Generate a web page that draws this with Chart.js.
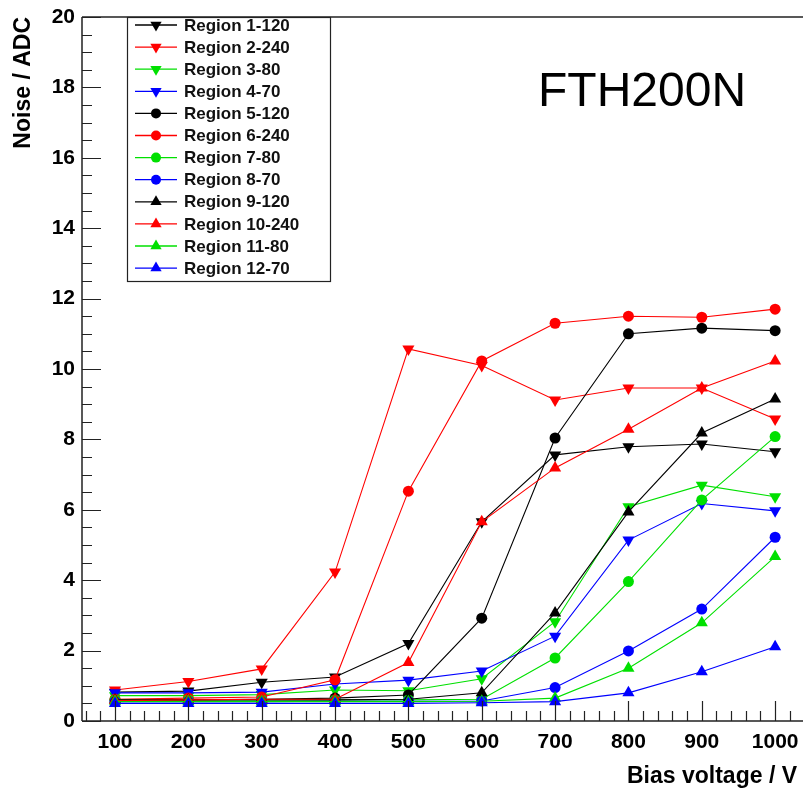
<!DOCTYPE html>
<html><head><meta charset="utf-8">
<script src="https://cdn.jsdelivr.net/npm/chart.js@4/dist/chart.umd.min.js"></script>
<style>html,body{margin:0;padding:0;background:#fff;overflow:hidden}</style>
</head><body>
<canvas id="c" width="803" height="792"></canvas>
<script>
// ---- data ----
const voltages = [100, 200, 300, 400, 500, 600, 700, 800, 900, 1000];
const xTickLabels = [100, 200, 300, 400, 500, 600, 700, 800, 900, 1000];
const yTickLabels = [0, 2, 4, 6, 8, 10, 12, 14, 16, 18, 20];
const seriesNames = ['Region 1-120','Region 2-240','Region 3-80','Region 4-70','Region 5-120','Region 6-240','Region 7-80','Region 8-70','Region 9-120','Region 10-240','Region 11-80','Region 12-70'];
const region1  = [0.82, 0.85, 1.10, 1.25, 2.20, 5.66, 7.56, 7.79, 7.87, 7.65];
const region2  = [0.88, 1.12, 1.48, 4.23, 10.57, 10.10, 9.12, 9.46, 9.46, 8.58];
const region3  = [0.72, 0.72, 0.75, 0.88, 0.86, 1.20, 2.82, 6.09, 6.70, 6.37];
const region4  = [0.80, 0.80, 0.82, 1.05, 1.16, 1.42, 2.41, 5.14, 6.18, 5.97];
const region5  = [0.60, 0.60, 0.62, 0.65, 0.74, 2.92, 8.04, 11.00, 11.16, 11.09];
const region6  = [0.62, 0.65, 0.68, 1.17, 6.53, 10.23, 11.30, 11.50, 11.47, 11.70];
const region7  = [0.60, 0.60, 0.60, 0.60, 0.60, 0.62, 1.79, 3.96, 6.28, 8.08];
const region8  = [0.55, 0.55, 0.55, 0.56, 0.56, 0.57, 0.95, 1.99, 3.18, 5.22];
const region9  = [0.60, 0.60, 0.60, 0.60, 0.62, 0.80, 3.07, 5.94, 8.18, 9.15];
const region10 = [0.58, 0.60, 0.62, 0.62, 1.66, 5.66, 7.19, 8.29, 9.46, 10.23];
const region11 = [0.55, 0.55, 0.55, 0.55, 0.55, 0.56, 0.65, 1.50, 2.79, 4.67];
const region12 = [0.50, 0.50, 0.50, 0.50, 0.50, 0.52, 0.55, 0.80, 1.40, 2.11];
const seriesValues = [region1, region2, region3, region4, region5, region6, region7, region8, region9, region10, region11, region12];
const seriesColors = ['#000000','#ff0000','#00e000','#0000ff','#000000','#ff0000','#00e000','#0000ff','#000000','#ff0000','#00e000','#0000ff'];
const seriesMarkers = ['down','down','down','down','circle','circle','circle','circle','up','up','up','up'];
const xTitle = 'Bias voltage / V';
const yTitle = 'Noise / ADC';
const plotLabel = 'FTH200N';

// ---- style ----
const FONT = "'Liberation Sans', Arial, sans-serif";
function marker(m){
  if (m === 'circle') return {pointStyle:'circle', rotation:0, radius:5.5};
  if (m === 'down') return {pointStyle:'triangle', rotation:180, radius:7};
  return {pointStyle:'triangle', rotation:0, radius:7};
}

const datasets = seriesNames.map((name, i) => {
  const mk = marker(seriesMarkers[i]);
  return {
    label: name,
    data: voltages.map((v, j) => ({x: v, y: seriesValues[i][j]})),
    showLine: true,
    borderColor: seriesColors[i],
    borderWidth: 1.1,
    backgroundColor: seriesColors[i],
    pointStyle: mk.pointStyle,
    pointRotation: mk.rotation,
    pointRadius: mk.radius,
    pointHoverRadius: mk.radius,
    pointBackgroundColor: seriesColors[i],
    pointBorderColor: seriesColors[i],
    pointBorderWidth: 0,
    order: seriesNames.length - i,
    clip: false
  };
});

const framePlugin = {
  id: 'frame',
  afterDatasetsDraw(chart) {
    const ctx = chart.ctx, a = chart.chartArea;
    const xs = chart.scales.x, ys = chart.scales.y;
    ctx.save();
    ctx.strokeStyle = '#222';
    ctx.lineWidth = 1.5;
    ctx.beginPath();
    ctx.moveTo(a.left, a.top); ctx.lineTo(a.right, a.top);
    ctx.moveTo(a.left, a.top); ctx.lineTo(a.left, a.bottom);
    ctx.moveTo(a.left, a.bottom); ctx.lineTo(a.right, a.bottom);
    ctx.stroke();
    ctx.lineWidth = 1.2;
    ctx.beginPath();
    for (let v = Math.ceil(xs.min / 20) * 20; v <= xs.max; v += 20) {
      const px = Math.round(xs.getPixelForValue(v)) + 0.5;
      const len = (v % 100 === 0) ? 20 : 10;
      ctx.moveTo(px, a.bottom); ctx.lineTo(px, a.bottom - len);
    }
    for (let k = 0; k <= 40; k++) {
      const v = k * 0.5;
      const py = Math.round(ys.getPixelForValue(v)) + 0.5;
      const len = (k % 4 === 0) ? 19 : 10;
      ctx.moveTo(a.left, py); ctx.lineTo(a.left + len, py);
    }
    ctx.stroke();
    ctx.restore();
  }
};

const labelPlugin = {
  id: 'labels',
  afterDraw(chart) {
    const ctx = chart.ctx;
    ctx.save();
    ctx.fillStyle = '#000';
    ctx.font = "48px " + FONT;
    ctx.textBaseline = 'alphabetic';
    ctx.textAlign = 'left';
    ctx.fillText(plotLabel, 538, 106);
    // x-axis title, right aligned near the end of the axis
    ctx.font = "bold 23px " + FONT;
    ctx.textAlign = 'right';
    ctx.textBaseline = 'middle';
    ctx.fillText(xTitle, 797, 777);
    // legend
    const bx = 127, by = chart.chartArea.top, bw = 203, bh = 264;
    ctx.fillStyle = '#fff';
    ctx.fillRect(bx, by, bw, bh);
    ctx.strokeStyle = '#222';
    ctx.lineWidth = 1.2;
    ctx.strokeRect(bx + 0.5, by + 0.5, bw, bh);
    const h = Chart.helpers;
    chart.data.datasets.forEach((ds, i) => {
      const y = 25 + i * 22.1;
      ctx.strokeStyle = ds.borderColor;
      ctx.lineWidth = 1.3;
      ctx.beginPath(); ctx.moveTo(135, y); ctx.lineTo(177, y); ctx.stroke();
      ctx.fillStyle = ds.pointBackgroundColor;
      ctx.strokeStyle = ds.pointBorderColor;
      h.drawPoint(ctx, {pointStyle: ds.pointStyle, rotation: ds.pointRotation, radius: ds.pointRadius - 0.5, borderWidth: 0}, 156, y);
      ctx.fillStyle = '#111';
      ctx.font = "bold 17px " + FONT;
      ctx.textBaseline = 'middle';
      ctx.textAlign = 'left';
      ctx.fillText(ds.label, 184, y + 1);
    });
    ctx.restore();
  }
};

new Chart(document.getElementById('c'), {
  type: 'scatter',
  data: { datasets },
  options: {
    responsive: false,
    devicePixelRatio: 1,
    animation: false,
    layout: { autoPadding: false, padding: { top: 17, right: 0, left: 0, bottom: 0 } },
    plugins: { legend: { display: false }, tooltip: { enabled: false } },
    scales: {
      x: {
        type: 'linear', min: 55, max: 1038,
        afterBuildTicks: s => { s.ticks = xTickLabels.map(v => ({ value: v })); },
        afterFit: s => { s.height = 71; s.paddingLeft = 0; s.paddingRight = 0; },
        grid: { display: false, drawTicks: false },
        border: { display: false },
        ticks: { autoSkip: false, maxRotation: 0, color: '#000', padding: 9,
                 callback: v => String(v),
                 font: { family: FONT, size: 21, weight: 'bold' } },
        title: { display: false }
      },
      y: {
        type: 'linear', min: 0, max: 20,
        afterBuildTicks: s => { s.ticks = yTickLabels.map(v => ({ value: v })); },
        afterFit: s => { s.width = 82; s.paddingTop = 0; s.paddingBottom = 0; },
        grid: { display: false, drawTicks: false },
        border: { display: false },
        ticks: { autoSkip: false, color: '#000', padding: 7,
                 callback: v => String(v),
                 font: { family: FONT, size: 21, weight: 'bold' } },
        title: { display: true, text: yTitle, align: 'end', color: '#000',
                 font: { family: FONT, size: 23, weight: 'bold' }, padding: { top: 10, bottom: 0 } }
      }
    }
  },
  plugins: [framePlugin, labelPlugin]
});
</script>
</body></html>
